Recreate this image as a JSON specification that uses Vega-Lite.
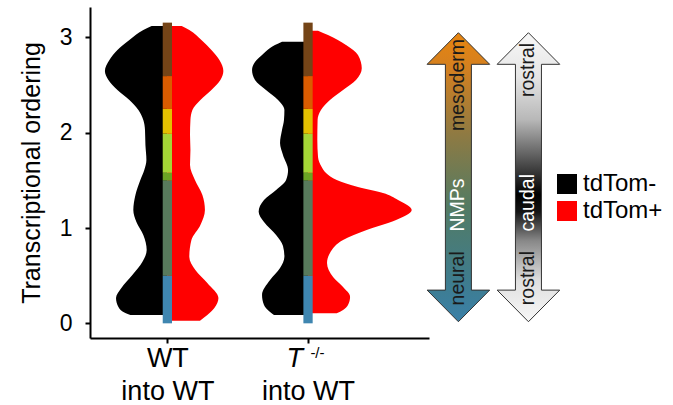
{
  "$schema": "https://vega.github.io/schema/vega-lite/v6.json",
  "width": 339,
  "height": 331,
  "autosize": {"type": "none"},
  "padding": {"left": 90, "top": 7, "right": 244, "bottom": 67},
  "config": {
    "view": {"stroke": null},
    "font": "Liberation Sans",
    "axis": {"grid": false, "domainColor": "#000000", "domainWidth": 2, "tickColor": "#000000", "tickWidth": 2, "labelColor": "#000000", "titleColor": "#000000", "labelFont": "Liberation Sans", "titleFont": "Liberation Sans", "titleFontWeight": "normal"}
  },
  "encoding": {
    "x": {"field": "xv", "type": "quantitative", "scale": {"domain": [0.45, 2.86], "nice": false, "zero": false},
      "axis": {"title": null, "values": [1, 2], "tickSize": 5, "labelFontSize": 27, "labelLineHeight": 33, "labelPadding": 2, "labelExpr": "datum.value == 1 ? ['WT', 'into WT'] : ['', 'into WT']"}},
    "y": {"field": "yv", "type": "quantitative", "scale": {"domain": [-0.154, 3.319], "nice": false, "zero": false},
      "axis": {"title": "Transcriptional ordering", "values": [0, 1, 2, 3], "tickSize": 5, "labelFontSize": 23, "labelPadding": 13, "titleFontSize": 25, "titlePadding": 15}}
  },
  "layer": [
    {
      "data": {"values": [
        {"group":"WT","status":"tdTom-","yv":3.120,"xv":0.888,"xv2":1},{"group":"WT","status":"tdTom-","yv":3.078,"xv":0.829,"xv2":1},{"group":"WT","status":"tdTom-","yv":2.973,"xv":0.730,"xv2":1},{"group":"WT","status":"tdTom-","yv":2.868,"xv":0.645,"xv2":1},{"group":"WT","status":"tdTom-","yv":2.763,"xv":0.588,"xv2":1},{"group":"WT","status":"tdTom-","yv":2.647,"xv":0.556,"xv2":1},{"group":"WT","status":"tdTom-","yv":2.553,"xv":0.581,"xv2":1},{"group":"WT","status":"tdTom-","yv":2.448,"xv":0.645,"xv2":1},{"group":"WT","status":"tdTom-","yv":2.343,"xv":0.730,"xv2":1},{"group":"WT","status":"tdTom-","yv":2.238,"xv":0.794,"xv2":1},{"group":"WT","status":"tdTom-","yv":2.133,"xv":0.829,"xv2":1},{"group":"WT","status":"tdTom-","yv":2.028,"xv":0.841,"xv2":1},{"group":"WT","status":"tdTom-","yv":1.871,"xv":0.844,"xv2":1},{"group":"WT","status":"tdTom-","yv":1.713,"xv":0.851,"xv2":1},{"group":"WT","status":"tdTom-","yv":1.608,"xv":0.836,"xv2":1},{"group":"WT","status":"tdTom-","yv":1.503,"xv":0.808,"xv2":1},{"group":"WT","status":"tdTom-","yv":1.346,"xv":0.773,"xv2":1},{"group":"WT","status":"tdTom-","yv":1.189,"xv":0.758,"xv2":1},{"group":"WT","status":"tdTom-","yv":1.063,"xv":0.780,"xv2":1},{"group":"WT","status":"tdTom-","yv":0.927,"xv":0.829,"xv2":1},{"group":"WT","status":"tdTom-","yv":0.769,"xv":0.853,"xv2":1},{"group":"WT","status":"tdTom-","yv":0.643,"xv":0.822,"xv2":1},{"group":"WT","status":"tdTom-","yv":0.507,"xv":0.751,"xv2":1},{"group":"WT","status":"tdTom-","yv":0.370,"xv":0.673,"xv2":1},{"group":"WT","status":"tdTom-","yv":0.265,"xv":0.635,"xv2":1},{"group":"WT","status":"tdTom-","yv":0.171,"xv":0.652,"xv2":1},{"group":"WT","status":"tdTom-","yv":0.108,"xv":0.701,"xv2":1},{"group":"WT","status":"tdTom-","yv":0.087,"xv":0.737,"xv2":1},
        {"group":"WT","status":"tdTom+","yv":3.120,"xv":1,"xv2":1.102},{"group":"WT","status":"tdTom+","yv":3.078,"xv":1,"xv2":1.156},{"group":"WT","status":"tdTom+","yv":2.973,"xv":1,"xv2":1.242},{"group":"WT","status":"tdTom+","yv":2.868,"xv":1,"xv2":1.313},{"group":"WT","status":"tdTom+","yv":2.763,"xv":1,"xv2":1.370},{"group":"WT","status":"tdTom+","yv":2.647,"xv":1,"xv2":1.398},{"group":"WT","status":"tdTom+","yv":2.553,"xv":1,"xv2":1.377},{"group":"WT","status":"tdTom+","yv":2.448,"xv":1,"xv2":1.313},{"group":"WT","status":"tdTom+","yv":2.343,"xv":1,"xv2":1.235},{"group":"WT","status":"tdTom+","yv":2.238,"xv":1,"xv2":1.178},{"group":"WT","status":"tdTom+","yv":2.133,"xv":1,"xv2":1.164},{"group":"WT","status":"tdTom+","yv":1.976,"xv":1,"xv2":1.161},{"group":"WT","status":"tdTom+","yv":1.818,"xv":1,"xv2":1.164},{"group":"WT","status":"tdTom+","yv":1.661,"xv":1,"xv2":1.161},{"group":"WT","status":"tdTom+","yv":1.503,"xv":1,"xv2":1.196},{"group":"WT","status":"tdTom+","yv":1.346,"xv":1,"xv2":1.249},{"group":"WT","status":"tdTom+","yv":1.189,"xv":1,"xv2":1.267},{"group":"WT","status":"tdTom+","yv":1.032,"xv":1,"xv2":1.235},{"group":"WT","status":"tdTom+","yv":0.874,"xv":1,"xv2":1.171},{"group":"WT","status":"tdTom+","yv":0.696,"xv":1,"xv2":1.156},{"group":"WT","status":"tdTom+","yv":0.559,"xv":1,"xv2":1.199},{"group":"WT","status":"tdTom+","yv":0.423,"xv":1,"xv2":1.284},{"group":"WT","status":"tdTom+","yv":0.265,"xv":1,"xv2":1.363},{"group":"WT","status":"tdTom+","yv":0.161,"xv":1,"xv2":1.334},{"group":"WT","status":"tdTom+","yv":0.087,"xv":1,"xv2":1.284},{"group":"WT","status":"tdTom+","yv":0.027,"xv":1,"xv2":1.232},
        {"group":"T","status":"tdTom-","yv":2.955,"xv":1.815,"xv2":2},{"group":"T","status":"tdTom-","yv":2.920,"xv":1.765,"xv2":2},{"group":"T","status":"tdTom-","yv":2.815,"xv":1.673,"xv2":2},{"group":"T","status":"tdTom-","yv":2.742,"xv":1.623,"xv2":2},{"group":"T","status":"tdTom-","yv":2.658,"xv":1.602,"xv2":2},{"group":"T","status":"tdTom-","yv":2.553,"xv":1.623,"xv2":2},{"group":"T","status":"tdTom-","yv":2.448,"xv":1.701,"xv2":2},{"group":"T","status":"tdTom-","yv":2.343,"xv":1.787,"xv2":2},{"group":"T","status":"tdTom-","yv":2.238,"xv":1.832,"xv2":2},{"group":"T","status":"tdTom-","yv":2.133,"xv":1.829,"xv2":2},{"group":"T","status":"tdTom-","yv":2.028,"xv":1.815,"xv2":2},{"group":"T","status":"tdTom-","yv":1.892,"xv":1.801,"xv2":2},{"group":"T","status":"tdTom-","yv":1.766,"xv":1.822,"xv2":2},{"group":"T","status":"tdTom-","yv":1.608,"xv":1.858,"xv2":2},{"group":"T","status":"tdTom-","yv":1.503,"xv":1.844,"xv2":2},{"group":"T","status":"tdTom-","yv":1.398,"xv":1.773,"xv2":2},{"group":"T","status":"tdTom-","yv":1.293,"xv":1.687,"xv2":2},{"group":"T","status":"tdTom-","yv":1.171,"xv":1.649,"xv2":2},{"group":"T","status":"tdTom-","yv":1.063,"xv":1.687,"xv2":2},{"group":"T","status":"tdTom-","yv":0.927,"xv":1.773,"xv2":2},{"group":"T","status":"tdTom-","yv":0.811,"xv":1.822,"xv2":2},{"group":"T","status":"tdTom-","yv":0.699,"xv":1.832,"xv2":2},{"group":"T","status":"tdTom-","yv":0.580,"xv":1.801,"xv2":2},{"group":"T","status":"tdTom-","yv":0.454,"xv":1.730,"xv2":2},{"group":"T","status":"tdTom-","yv":0.297,"xv":1.673,"xv2":2},{"group":"T","status":"tdTom-","yv":0.192,"xv":1.687,"xv2":2},{"group":"T","status":"tdTom-","yv":0.119,"xv":1.730,"xv2":2},{"group":"T","status":"tdTom-","yv":0.087,"xv":1.758,"xv2":2},
        {"group":"T","status":"tdTom+","yv":3.070,"xv":2,"xv2":2.071},{"group":"T","status":"tdTom+","yv":3.025,"xv":2,"xv2":2.142},{"group":"T","status":"tdTom+","yv":2.920,"xv":2,"xv2":2.270},{"group":"T","status":"tdTom+","yv":2.815,"xv":2,"xv2":2.355},{"group":"T","status":"tdTom+","yv":2.676,"xv":2,"xv2":2.382},{"group":"T","status":"tdTom+","yv":2.553,"xv":2,"xv2":2.341},{"group":"T","status":"tdTom+","yv":2.448,"xv":2,"xv2":2.249},{"group":"T","status":"tdTom+","yv":2.343,"xv":2,"xv2":2.156},{"group":"T","status":"tdTom+","yv":2.238,"xv":2,"xv2":2.092},{"group":"T","status":"tdTom+","yv":2.133,"xv":2,"xv2":2.068},{"group":"T","status":"tdTom+","yv":1.923,"xv":2,"xv2":2.066},{"group":"T","status":"tdTom+","yv":1.745,"xv":2,"xv2":2.071},{"group":"T","status":"tdTom+","yv":1.640,"xv":2,"xv2":2.097},{"group":"T","status":"tdTom+","yv":1.577,"xv":2,"xv2":2.128},{"group":"T","status":"tdTom+","yv":1.503,"xv":2,"xv2":2.204},{"group":"T","status":"tdTom+","yv":1.430,"xv":2,"xv2":2.355},{"group":"T","status":"tdTom+","yv":1.367,"xv":2,"xv2":2.533},{"group":"T","status":"tdTom+","yv":1.294,"xv":2,"xv2":2.640},{"group":"T","status":"tdTom+","yv":1.189,"xv":2,"xv2":2.737},{"group":"T","status":"tdTom+","yv":1.084,"xv":2,"xv2":2.626},{"group":"T","status":"tdTom+","yv":0.979,"xv":2,"xv2":2.417},{"group":"T","status":"tdTom+","yv":0.874,"xv":2,"xv2":2.249},{"group":"T","status":"tdTom+","yv":0.738,"xv":2,"xv2":2.156},{"group":"T","status":"tdTom+","yv":0.633,"xv":2,"xv2":2.135},{"group":"T","status":"tdTom+","yv":0.486,"xv":2,"xv2":2.178},{"group":"T","status":"tdTom+","yv":0.381,"xv":2,"xv2":2.249},{"group":"T","status":"tdTom+","yv":0.279,"xv":2,"xv2":2.299},{"group":"T","status":"tdTom+","yv":0.192,"xv":2,"xv2":2.284},{"group":"T","status":"tdTom+","yv":0.140,"xv":2,"xv2":2.249},{"group":"T","status":"tdTom+","yv":0.105,"xv":2,"xv2":2.204}
      ]},
      "mark": {"type": "area", "orient": "horizontal", "interpolate": "monotone"},
      "encoding": {
        "x2": {"field": "xv2"},
        "detail": {"field": "group"},
        "color": {"field": "status", "type": "nominal",
          "scale": {"domain": ["tdTom-", "tdTom+"], "range": ["#000000", "#ff0000"]},
          "legend": {"orient": "none", "legendX": 465, "legendY": 165, "title": null, "symbolType": "square", "symbolSize": 400, "symbolStrokeWidth": 0, "symbolOpacity": 1, "labelFontSize": 24, "labelFont": "Liberation Sans", "labelColor": "#000000", "labelOffset": 4, "rowPadding": 3, "padding": 0}}
      }
    },
    {
      "data": {"values": [
        {"group":"WT","cluster":"1","xv":0.967,"xv2":1.033,"yv":0.0,"yv2":0.50},
        {"group":"WT","cluster":"2","xv":0.967,"xv2":1.033,"yv":0.50,"yv2":1.50},
        {"group":"WT","cluster":"3","xv":0.967,"xv2":1.033,"yv":1.50,"yv2":1.58},
        {"group":"WT","cluster":"4","xv":0.967,"xv2":1.033,"yv":1.58,"yv2":1.99},
        {"group":"WT","cluster":"5","xv":0.967,"xv2":1.033,"yv":1.99,"yv2":2.25},
        {"group":"WT","cluster":"6","xv":0.967,"xv2":1.033,"yv":2.25,"yv2":2.594},
        {"group":"WT","cluster":"7","xv":0.967,"xv2":1.033,"yv":2.594,"yv2":3.155},
        {"group":"T","cluster":"1","xv":1.967,"xv2":2.033,"yv":0.0,"yv2":0.50},
        {"group":"T","cluster":"2","xv":1.967,"xv2":2.033,"yv":0.50,"yv2":1.50},
        {"group":"T","cluster":"3","xv":1.967,"xv2":2.033,"yv":1.50,"yv2":1.58},
        {"group":"T","cluster":"4","xv":1.967,"xv2":2.033,"yv":1.58,"yv2":1.99},
        {"group":"T","cluster":"5","xv":1.967,"xv2":2.033,"yv":1.99,"yv2":2.25},
        {"group":"T","cluster":"6","xv":1.967,"xv2":2.033,"yv":2.25,"yv2":2.594},
        {"group":"T","cluster":"7","xv":1.967,"xv2":2.033,"yv":2.594,"yv2":3.155}
      ]},
      "mark": {"type": "rect"},
      "encoding": {
        "x2": {"field": "xv2"},
        "y2": {"field": "yv2"},
        "fill": {"field": "cluster", "type": "nominal", "legend": null,
          "scale": {"domain": ["1","2","3","4","5","6","7"], "range": ["#3f86b0", "#587a5c", "#6ba424", "#a4d636", "#e3c000", "#da5c00", "#744417"]}}
      }
    },
    {
      "data": {"values": [{"arrow": "lineage", "xv": 3.069, "yv": 1.533}]},
      "mark": {"type": "point", "shape": "M0,-14.45 L3.13,-11.29 L1.3,-11.29 L1.3,11.29 L3.13,11.29 L0,14.45 L-3.13,11.29 L-1.3,11.29 L-1.3,-11.29 L-3.13,-11.29 Z", "size": 400, "filled": true, "opacity": 1, "fillOpacity": 1, "stroke": "#333333", "strokeWidth": 1,
        "fill": {"gradient": "linear", "x1": 0, "y1": 0, "x2": 0, "y2": 1, "stops": [
          {"offset": 0, "color": "#e8850f"}, {"offset": 0.12, "color": "#d48020"}, {"offset": 0.35, "color": "#8f7a42"}, {"offset": 0.6, "color": "#537b63"}, {"offset": 0.85, "color": "#3f7c8c"}, {"offset": 1, "color": "#3a80a8"}]}}
    },
    {
      "data": {"values": [{"arrow": "axis", "xv": 3.567, "yv": 1.533}]},
      "mark": {"type": "point", "shape": "M0,-14.45 L3.13,-11.29 L1.3,-11.29 L1.3,11.29 L3.13,11.29 L0,14.45 L-3.13,11.29 L-1.3,11.29 L-1.3,-11.29 L-3.13,-11.29 Z", "size": 400, "filled": true, "opacity": 1, "fillOpacity": 1, "stroke": "#333333", "strokeWidth": 1,
        "fill": {"gradient": "linear", "x1": 0, "y1": 0, "x2": 0, "y2": 1, "stops": [
          {"offset": 0, "color": "#f7f7f7"}, {"offset": 0.15, "color": "#e6e6e6"}, {"offset": 0.3, "color": "#b8b8b8"}, {"offset": 0.47, "color": "#404040"}, {"offset": 0.56, "color": "#000000"}, {"offset": 0.62, "color": "#151515"}, {"offset": 0.72, "color": "#888888"}, {"offset": 0.86, "color": "#e0e0e0"}, {"offset": 1, "color": "#f7f7f7"}]}}
    },
    {
      "data": {"values": [
        {"label": "mesoderm", "xv": 3.069, "yv": 2.500},
        {"label": "NMPs", "xv": 3.069, "yv": 1.241},
        {"label": "neural", "xv": 3.069, "yv": 0.472},
        {"label": "rostral", "xv": 3.567, "yv": 2.658},
        {"label": "caudal", "xv": 3.567, "yv": 1.265},
        {"label": "rostral", "xv": 3.567, "yv": 0.475}
      ]},
      "mark": {"type": "text", "angle": 270, "fontSize": 19.5, "align": "center", "baseline": "middle", "font": "Liberation Sans"},
      "encoding": {
        "text": {"field": "label"},
        "color": {"condition": {"test": "datum.label == 'NMPs' || datum.label == 'caudal'", "value": "#ffffff"}, "value": "#1a1a1a"}
      }
    },
    {
      "data": {"values": [{"label": "T", "xv": 1.905, "yv": -0.455}]},
      "mark": {"type": "text", "fontSize": 27, "fontStyle": "italic", "align": "center", "baseline": "alphabetic", "font": "Liberation Sans", "color": "#000000"},
      "encoding": {"text": {"field": "label"}}
    },
    {
      "data": {"values": [{"label": "-/-", "xv": 2.067, "yv": -0.359}]},
      "mark": {"type": "text", "fontSize": 15, "align": "center", "baseline": "alphabetic", "font": "Liberation Sans", "color": "#000000"},
      "encoding": {"text": {"field": "label"}}
    }
  ]
}
